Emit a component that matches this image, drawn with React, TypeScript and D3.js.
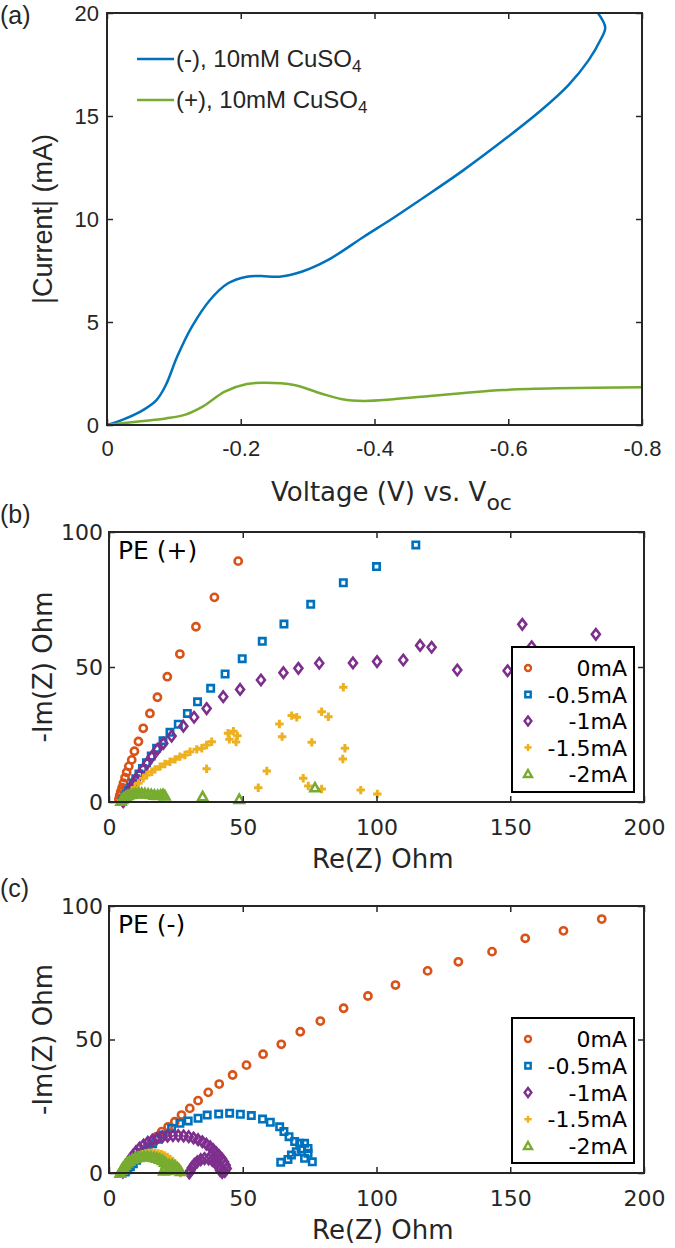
import React, { useRef, useEffect } from 'react';
import * as d3 from 'd3';

// ---- panel (a): |Current| vs voltage ----
const vocTicks = [0, -0.2, -0.4, -0.6, -0.8];
const currentTicks = [0, 5, 10, 15, 20];
const negCurve = [
  [0, 0], [-0.022, 0.24], [-0.05, 0.65], [-0.074, 1.21], [-0.088, 1.94], [-0.105, 3.32],
  [-0.127, 4.77], [-0.154, 6.07], [-0.181, 6.88], [-0.209, 7.2], [-0.23, 7.23], [-0.258, 7.2],
  [-0.291, 7.44], [-0.33, 8.0], [-0.384, 9.14], [-0.428, 10.05], [-0.467, 10.9], [-0.53, 12.3],
  [-0.6, 14.0], [-0.65, 15.3], [-0.69, 16.5], [-0.72, 17.7], [-0.738, 18.7], [-0.745, 19.3],
  [-0.734, 20],
];
const posCurve = [
  [0, 0], [-0.044, 0.16], [-0.088, 0.32], [-0.116, 0.49], [-0.143, 0.89], [-0.176, 1.62],
  [-0.209, 1.99], [-0.236, 2.05], [-0.28, 1.94], [-0.319, 1.54], [-0.352, 1.25], [-0.384, 1.17],
  [-0.428, 1.25], [-0.483, 1.41], [-0.538, 1.57], [-0.593, 1.7], [-0.675, 1.78], [-0.8, 1.83],
];
const curveLabels = ['(-), 10mM CuSO', '(+), 10mM CuSO'];

// ---- panels (b), (c): Nyquist ----
const reTicks = [0, 50, 100, 150, 200];
const imTicks = [0, 50, 100];
const seriesLabels = ['0mA', '-0.5mA', '-1mA', '-1.5mA', '-2mA'];
const seriesColors = ['#D95319', '#0072BD', '#7E2F8E', '#EDB120', '#77AC30'];

const plus0 = [
  [48.3, 89.2], [39.4, 75.8], [32.5, 64.9], [26.5, 54.8], [21.8, 46.4], [18.1, 38.8], [15.3, 32.8],
  [12.8, 27.3], [11.0, 22.4], [9.5, 18.8], [8.5, 15.6], [7.4, 13.2], [6.6, 11.0], [6.0, 9.0],
  [5.4, 7.0], [4.9, 5.3], [4.4, 3.8], [4.0, 2.4], [3.7, 1.0],
];
const plus05 = [
  [114.7, 95.2], [100.0, 87.2], [87.6, 81.2], [75.4, 73.2], [65.4, 65.9], [57.3, 59.5], [49.8, 53.1],
  [43.4, 47.4], [38.0, 42.1], [33.1, 37.1], [29.3, 32.8], [25.9, 28.8], [22.8, 25.8], [20.2, 22.7],
  [17.8, 19.9], [15.8, 17.0], [14.0, 14.5], [12.5, 12.4], [11.2, 10.4], [10.0, 8.6], [9.0, 7.0],
  [8.1, 5.5], [7.3, 4.2], [6.6, 3.0], [6.0, 1.9], [5.5, 1.0], [5.0, 0.3],
];
const plus1 = [
  [182, 62.1], [158, 57.5], [154.5, 65.8], [149, 48.6], [130.2, 48.9], [120.6, 57.3], [116.3, 58],
  [110, 52.6], [100.2, 52.0], [91.2, 51.5], [78.6, 51.4], [70.8, 49.5], [65.2, 47.9], [56.8, 45.2],
  [49.0, 41.7], [42.7, 39.0], [36.5, 34.6], [31.8, 31.4], [27.8, 28.1], [23.4, 24.4], [20.3, 21.7],
  [18.1, 19.5], [16.0, 16.8], [14.3, 14.4], [12.8, 12.2], [11.4, 10.2], [10.2, 8.4], [9.2, 6.8],
  [8.3, 5.3], [7.5, 4.0], [6.8, 2.8], [6.2, 1.7], [5.7, 0.8], [5.3, 0.1],
];
const plus15 = [
  [87.6, 42.5], [68.3, 32], [70.2, 31.4], [79.5, 33.4], [82, 31.6], [63.7, 28.9], [64.7, 24.2],
  [75.8, 22.1], [88.2, 19.9], [87.4, 15.9], [59, 11.5], [72.6, 8.8], [74.5, 5.9], [79.5, 4.8],
  [55.8, 5.3], [94.1, 4.4], [100.3, 3.0], [36.5, 12.3], [44.5, 25.5], [46.5, 26.2], [48, 24.5],
  [45, 23.2], [47.5, 22.2], [38.4, 22.3], [36.5, 21.1], [34.7, 19.9], [32.8, 19.5], [30.3, 18.6],
  [28.4, 17.4], [26.5, 16.8], [24.7, 15.8], [22.8, 14.9], [20.9, 14.1], [19.1, 13.1], [17.2, 12.1],
  [16, 11.2], [14.1, 10], [12.8, 8.8], [11, 6.9], [9.7, 5.4], [8.5, 3.8], [7.2, 2.0], [6.2, 0.3],
];
const plus2 = [
  [4.5, 0.3], [5, 1.0], [5.6, 1.6], [6.3, 2.1], [7.1, 2.5], [8, 2.8], [9, 3.0], [10, 3.1],
  [11.1, 3.2], [12.2, 3.2], [13.4, 3.1], [14.6, 3.0], [15.8, 2.8], [17, 2.6], [18.2, 2.5],
  [19.3, 2.6], [20.2, 2.8], [20.9, 2.3], [35, 2.0], [48.7, 1.0], [77, 5.3],
];

const minus0 = [
  [184.2, 95.1], [169.9, 90.7], [155.6, 87.9], [143.2, 82.9], [130.6, 79.1], [119.1, 75.7],
  [107.1, 70.4], [96.8, 66.3], [87.7, 61.7], [79.0, 56.9], [71.5, 52.9], [64.4, 48.2], [57.6, 44.5],
  [51.4, 40.4], [46.2, 36.7], [41.2, 33.3], [37.1, 30.2], [33.3, 27.1], [30.2, 24.2], [27.1, 21.7],
  [24.6, 19.2], [22.1, 17.3], [19.7, 15.5], [17.8, 13.6], [16.0, 11.8], [14.4, 10.0], [12.9, 8.4],
  [11.5, 6.8], [10.2, 5.3], [9.0, 4.0], [7.8, 2.8], [6.7, 1.6], [5.6, 0.6], [4.6, 0],
];
const minus05 = [
  [64.2, 4.0], [66.9, 5.1], [68.2, 6.7], [70, 8.0], [71.8, 9.0], [73.1, 5.5], [76, 4.2], [74.4, 7.4],
  [74.4, 9.2], [73.1, 11.1], [71.3, 11.1], [69.4, 11.8], [67.3, 13.6], [65.4, 15.5], [63.8, 17.3],
  [60.3, 19.0], [57.4, 20.2], [53.2, 21.5], [49.1, 22.0], [45.1, 22.4], [41.0, 22.1], [36.7, 21.7],
  [33.3, 20.5], [29.6, 19.5], [26.5, 18.6], [23.4, 16.7], [20.3, 14.2], [18.2, 12.6], [16.3, 11.0],
  [14.6, 9.4], [13.0, 7.8], [11.6, 6.2], [10.3, 4.8], [9.1, 3.5], [8.0, 2.3], [7.0, 1.2], [6.1, 0.4],
];
const minus1 = [
  [5.2, 0.3], [6.0, 1.8], [6.8, 3.4], [7.8, 5.0], [8.9, 6.5], [10.1, 8.0], [11.4, 9.3], [12.9, 10.5],
  [14.5, 11.5], [16.2, 12.3], [18.0, 13.0], [19.9, 13.5], [21.9, 13.8], [23.9, 14.0], [25.9, 14.0],
  [27.9, 13.9], [29.8, 13.6], [31.6, 13.1], [33.3, 12.5], [34.9, 11.7], [36.4, 10.8], [37.8, 9.8],
  [39.0, 8.7], [40.1, 7.6], [41.2, 6.5], [42.2, 5.3], [43.0, 4.1], [43.6, 2.9], [44.0, 1.7],
  [43.3, 0.6], [42.3, 0.2], [41.5, 1.0], [40.8, 2.5], [39.8, 3.7], [38.6, 4.7], [37.2, 5.3],
  [35.7, 5.4], [34.3, 5.0], [33.0, 4.2], [31.9, 3.2], [31.0, 2.0], [30.4, 0.8], [30, 0],
];
const minus15 = [
  [5, 0.3], [5.6, 1.5], [6.3, 2.6], [7.1, 3.6], [8.0, 4.5], [9.0, 5.3], [10.1, 6.0], [11.2, 6.6],
  [12.4, 7.0], [13.6, 7.3], [14.8, 7.5], [16.0, 7.6], [17.2, 7.5], [18.4, 7.3], [19.6, 7.0],
  [20.7, 6.6], [21.8, 6.0], [22.8, 5.3], [23.7, 4.5], [24.5, 3.6], [25.2, 2.6], [25.8, 1.6],
  [26.3, 0.7], [26.7, 0],
];
const minus2 = [
  [4.2, 0], [4.7, 1.1], [5.3, 2.1], [6.0, 3.0], [6.8, 3.8], [7.7, 4.5], [8.7, 5.1], [9.8, 5.6],
  [10.9, 5.9], [12.0, 6.1], [13.2, 6.2], [14.4, 6.2], [15.6, 6.1], [16.8, 5.9], [17.9, 5.6],
  [19.0, 5.2], [20.0, 4.7], [20.8, 4.1], [21.5, 3.4], [22.5, 3.2], [23.6, 3.0], [24.6, 2.6],
  [25.5, 2.0], [26.2, 1.3], [26.8, 0.6], [21.0, 2.0], [20.5, 0.8], [22.0, 1.0], [23.5, 1.5],
];

const INK = '#262626';
const SANS = 'DejaVu Sans, sans-serif';
const HELV = 'Liberation Sans, Arial, sans-serif';

// marker shapes, matlab style: o s d + ^
const markerPath = [
  'M3.6,0A3.6,3.6 0 1,1 -3.6,0A3.6,3.6 0 1,1 3.6,0Z',
  'M-3.2,-3.2H3.2V3.2H-3.2Z',
  'M0,-5.2L4,0L0,5.2L-4,0Z',
  'M-4.2,0H4.2M0,-4.2V4.2',
  'M0,-4.6L4.6,3.6H-4.6Z',
];
const legendMarker = [
  'M3,0A3,3 0 1,1 -3,0A3,3 0 1,1 3,0Z',
  'M-2.7,-2.7H2.7V2.7H-2.7Z',
  'M0,-4.5L3.4,0L0,4.5L-3.4,0Z',
  'M-3.6,0H3.6M0,-3.6V3.6',
  'M0,-4L4,3H-4Z',
];

const drawFrame = (g, x, y, xTicks, yTicks, fmtX, font, size, padX, padY) => {
  const [x0, x1] = x.range();
  const [y0, y1] = y.range();
  const fmt = (d) => String(d);
  const axes = [
    g.append('g').attr('transform', `translate(0,${y0})`)
      .call(d3.axisBottom(x).tickValues(xTicks).tickSize(-6).tickPadding(padX).tickFormat(fmtX || fmt)),
    g.append('g').attr('transform', `translate(0,${y1})`)
      .call(d3.axisTop(x).tickValues(xTicks).tickSize(-6).tickFormat(() => '')),
    g.append('g').attr('transform', `translate(${x0},0)`)
      .call(d3.axisLeft(y).tickValues(yTicks).tickSize(-6).tickPadding(padY).tickFormat(fmt)),
    g.append('g').attr('transform', `translate(${x1},0)`)
      .call(d3.axisRight(y).tickValues(yTicks).tickSize(-6).tickFormat(() => '')),
  ];
  axes.forEach((a) => {
    a.attr('font-family', font).attr('font-size', size);
    a.select('.domain').remove();
    a.selectAll('line').attr('stroke', INK).attr('stroke-width', 1.5);
    a.selectAll('text').attr('fill', INK);
  });
  g.append('rect')
    .attr('x', x0).attr('y', y1)
    .attr('width', x1 - x0).attr('height', y0 - y1)
    .attr('fill', 'none').attr('stroke', INK).attr('stroke-width', 2);
};

const App = () => {
  const svgRef = useRef(null);

  useEffect(() => {
    const svg = d3.select(svgRef.current);
    svg.selectAll('*').remove();

    // ---------- (a) ----------
    const xa = d3.scaleLinear().domain([0, -0.8]).range([107, 642]);
    const ya = d3.scaleLinear().domain([0, 20]).range([425, 13]);
    const ga = svg.append('g');

    const line = d3.line()
      .x((d) => xa(d[0]))
      .y((d) => ya(d[1]))
      .curve(d3.curveCatmullRom.alpha(0.5));

    ga.append('path').attr('d', line(negCurve)).attr('fill', 'none')
      .attr('stroke', '#0072BD').attr('stroke-width', 2.5);
    ga.append('path').attr('d', line(posCurve)).attr('fill', 'none')
      .attr('stroke', '#77AC30').attr('stroke-width', 2.5);

    drawFrame(ga, xa, ya, vocTicks, currentTicks, (d) => String(d), HELV, 22, 15, 8);

    // legend (no box)
    const legA = ga.append('g');
    [0, 1].forEach((i) => {
      const ly = 59 + i * 41;
      legA.append('line').attr('x1', 137).attr('x2', 174).attr('y1', ly).attr('y2', ly)
        .attr('stroke', i === 0 ? '#0072BD' : '#77AC30').attr('stroke-width', 2.5);
      const t = legA.append('text').attr('x', 176).attr('y', ly + 8)
        .attr('font-family', HELV).attr('font-size', 24).attr('fill', INK);
      t.append('tspan').text(curveLabels[i]);
      t.append('tspan').attr('font-size', 17).attr('dy', 5).text('4');
    });

    ga.append('text')
      .attr('transform', `translate(52,${(13 + 425) / 2}) rotate(-90)`)
      .attr('text-anchor', 'middle')
      .attr('font-family', HELV).attr('font-size', 27).attr('fill', INK)
      .text('|Current| (mA)');

    const xl = ga.append('text').attr('x', 271).attr('y', 501)
      .attr('font-family', SANS).attr('font-size', 26).attr('fill', INK);
    xl.append('tspan').text('Voltage (V) vs. V');
    xl.append('tspan').attr('font-size', 22).attr('dy', 9).text('oc');

    ga.append('text').attr('x', 0).attr('y', 24)
      .attr('font-family', HELV).attr('font-size', 25).attr('fill', INK).text('(a)');

    // ---------- (b), (c) ----------
    const nyquist = (top, bottom, series, tag, label, legTop, legRow) => {
      const x = d3.scaleLinear().domain([0, 200]).range([109, 644]);
      const y = d3.scaleLinear().domain([0, 100]).range([bottom, top]);
      const g = svg.append('g');

      series.forEach((pts, si) => {
        g.append('g').selectAll('path').data(pts).enter().append('path')
          .attr('d', markerPath[si])
          .attr('transform', (d) => `translate(${x(d[0])},${y(d[1])})`)
          .attr('fill', 'none')
          .attr('stroke', seriesColors[si])
          .attr('stroke-width', si === 3 ? 3 : 2.6);
      });

      drawFrame(g, x, y, reTicks, imTicks, null, SANS, 22, 17, 6);

      g.append('text').attr('x', 118).attr('y', top + 27)
        .attr('font-family', SANS).attr('font-size', 25).attr('fill', '#000').text(label);

      // legend box
      const lg = g.append('g');
      lg.append('rect').attr('x', 512).attr('y', legTop).attr('width', 122).attr('height', 145)
        .attr('fill', '#fff').attr('stroke', '#000').attr('stroke-width', 2);
      seriesLabels.forEach((s, i) => {
        const ry = legTop + 21 + i * legRow;
        lg.append('path').attr('d', legendMarker[i])
          .attr('transform', `translate(528,${ry})`)
          .attr('fill', 'none').attr('stroke', seriesColors[i]).attr('stroke-width', 2.4);
        lg.append('text').attr('x', 627).attr('y', ry + 8).attr('text-anchor', 'end')
          .attr('font-family', SANS).attr('font-size', 22).attr('fill', '#000').text(s);
      });

      g.append('text')
        .attr('transform', `translate(52,${(top + bottom) / 2}) rotate(-90)`)
        .attr('text-anchor', 'middle')
        .attr('font-family', SANS).attr('font-size', 26).attr('fill', INK)
        .text('-Im(Z) Ohm');
      g.append('text').attr('x', 312).attr('y', bottom + 66)
        .attr('font-family', SANS).attr('font-size', 26).attr('fill', INK).text('Re(Z) Ohm');
      g.append('text').attr('x', 0).attr('y', top - 9)
        .attr('font-family', HELV).attr('font-size', 25).attr('fill', INK).text(tag);
    };

    nyquist(532, 802, [plus0, plus05, plus1, plus15, plus2], '(b)', 'PE (+)', 647, 26.5);
    nyquist(906, 1173, [minus0, minus05, minus1, minus15, minus2], '(c)', 'PE (-)', 1018, 26.75);
  }, []);

  return (
    <svg
      ref={svgRef}
      width={675}
      height={1248}
      style={{ position: 'absolute', left: 0, top: 0, background: '#fff' }}
    />
  );
};

export default App;
